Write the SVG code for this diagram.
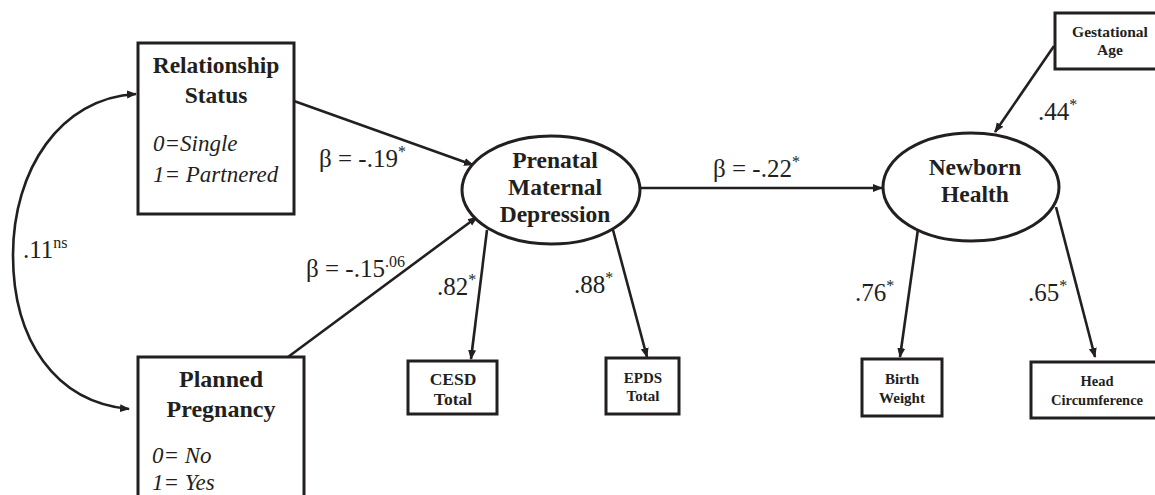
<svg xmlns="http://www.w3.org/2000/svg" width="1155" height="495" viewBox="0 0 1155 495">
<style>
  .box { fill: #fff; stroke: #231f20; stroke-width: 3; }
  .ell { fill: #fff; stroke: #231f20; stroke-width: 3; }
  .edge { fill: none; stroke: #231f20; stroke-width: 2.6; }
  text { fill: #231f20; }
  .b { font-weight: bold; text-anchor: middle; }
  .big { font-size: 23.5px; }
  .sm { font-size: 15px; }
  .it { font-style: italic; font-size: 23px; }
  .lab { font-size: 25px; }
  .sup { font-size: 16px; }
</style>
<defs>
  <marker id="ah" markerWidth="10" markerHeight="10" refX="9" refY="5" orient="auto-start-reverse" markerUnits="userSpaceOnUse">
    <path d="M0,1 L10,5 L0,9 Z" fill="#231f20"/>
  </marker>
</defs>
<rect width="1155" height="495" fill="#fff"/>

<g font-family="'Liberation Serif', 'Times New Roman', Times, serif">
<g id="connectors">
  <path class="edge" d="M 136 94 C 60 98 13 170 13 255 C 13 340 55 402 129 409" marker-start="url(#ah)" marker-end="url(#ah)"/>
  <line class="edge" x1="294" y1="101" x2="473" y2="165" marker-end="url(#ah)"/>
  <line class="edge" x1="288" y1="357" x2="477" y2="217" marker-end="url(#ah)"/>
  <line class="edge" x1="487" y1="230" x2="471" y2="359" marker-end="url(#ah)"/>
  <line class="edge" x1="613" y1="230" x2="647" y2="357" marker-end="url(#ah)"/>
  <line class="edge" x1="641" y1="188" x2="882" y2="188" marker-end="url(#ah)"/>
  <line class="edge" x1="1054" y1="46" x2="995" y2="132" marker-end="url(#ah)"/>
  <line class="edge" x1="918" y1="229" x2="900" y2="357" marker-end="url(#ah)"/>
  <line class="edge" x1="1056" y1="207" x2="1095" y2="357" marker-end="url(#ah)"/>
</g>

<g id="edge-labels">
  <text class="lab" x="23" y="258">.11<tspan class="sup" dy="-10">ns</tspan></text>
  <text class="lab" x="319" y="167">β = -.19<tspan class="sup" dy="-10">*</tspan></text>
  <text class="lab" x="306" y="277">β = -.15<tspan class="sup" dy="-10">.06</tspan></text>
  <text class="lab" x="713" y="177">β = -.22<tspan class="sup" dy="-10">*</tspan></text>
  <text class="lab" x="437" y="295">.82<tspan class="sup" dy="-10">*</tspan></text>
  <text class="lab" x="574" y="293">.88<tspan class="sup" dy="-10">*</tspan></text>
  <text class="lab" x="1038" y="120">.44<tspan class="sup" dy="-10">*</tspan></text>
  <text class="lab" x="855" y="301">.76<tspan class="sup" dy="-10">*</tspan></text>
  <text class="lab" x="1028" y="301">.65<tspan class="sup" dy="-10">*</tspan></text>
</g>

<g id="relationship-status">
  <rect class="box" x="138" y="43" width="156" height="171"/>
  <text class="b big" x="216" y="73">Relationship</text>
  <text class="b big" x="216" y="103">Status</text>
  <text class="it" x="153" y="151">0=Single</text>
  <text class="it" x="153" y="182">1= Partnered</text>
</g>

<g id="planned-pregnancy">
  <rect class="box" x="138" y="357" width="166" height="160"/>
  <text class="b" x="221" y="387" font-size="24">Planned</text>
  <text class="b" x="221" y="417" font-size="24">Pregnancy</text>
  <text class="it" x="152" y="463">0= No</text>
  <text class="it" x="152" y="490">1= Yes</text>
</g>

<g id="prenatal-maternal-depression">
  <ellipse class="ell" cx="551" cy="190" rx="89" ry="54"/>
  <text class="b big" x="555" y="168">Prenatal</text>
  <text class="b big" x="555" y="195">Maternal</text>
  <text class="b big" x="555" y="222">Depression</text>
</g>

<g id="cesd-total">
  <rect class="box" x="408" y="361" width="89" height="53"/>
  <text class="b" x="453" y="385" font-size="17.5">CESD</text>
  <text class="b" x="453" y="405" font-size="17.5">Total</text>
</g>

<g id="epds-total">
  <rect class="box" x="606" y="358" width="73" height="56"/>
  <text class="b sm" x="643" y="383">EPDS</text>
  <text class="b sm" x="643" y="401">Total</text>
</g>

<g id="newborn-health">
  <ellipse class="ell" cx="971" cy="187" rx="88" ry="54"/>
  <text class="b big" x="975" y="175">Newborn</text>
  <text class="b big" x="975" y="202">Health</text>
</g>

<g id="gestational-age">
  <rect class="box" x="1055" y="13" width="104" height="56"/>
  <text class="b" x="1110" y="37" font-size="15.5">Gestational</text>
  <text class="b" x="1110" y="55" font-size="15.5">Age</text>
</g>

<g id="birth-weight">
  <rect class="box" x="862" y="359" width="80" height="57"/>
  <text class="b sm" x="902" y="384">Birth</text>
  <text class="b sm" x="902" y="403">Weight</text>
</g>

<g id="head-circumference">
  <rect class="box" x="1031" y="362" width="128" height="56"/>
  <text class="b" x="1097" y="386" font-size="14.5">Head</text>
  <text class="b" x="1097" y="405" font-size="14.5">Circumference</text>
</g>
</g>
</svg>
